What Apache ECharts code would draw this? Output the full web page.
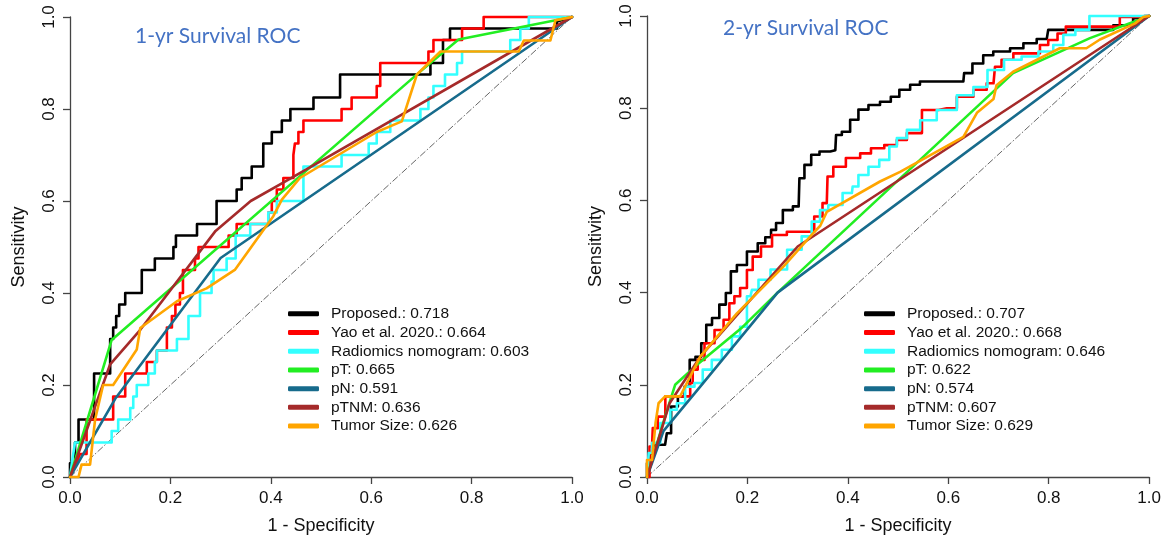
<!DOCTYPE html>
<html>
<head>
<meta charset="utf-8">
<script src="https://cdn.jsdelivr.net/npm/echarts@6/dist/echarts.min.js"></script>
<style>
html,body{margin:0;padding:0;background:#fff;}
#chart{width:1164px;height:540px;}
</style>
</head>
<body>
<div id="chart"></div>
<script>
// ---------- DATA ----------
const panelTitles = ['1-yr Survival ROC', '2-yr Survival ROC'];
const models = ['Proposed.', 'Yao et al. 2020.', 'Radiomics nomogram', 'pT', 'pN', 'pTNM', 'Tumor Size'];
const auc1y = ['0.718', '0.664', '0.603', '0.665', '0.591', '0.636', '0.626'];
const auc2y = ['0.707', '0.668', '0.646', '0.622', '0.574', '0.607', '0.629'];
const tickLabels = ['0.0', '0.2', '0.4', '0.6', '0.8', '1.0'];
const xName = '1 - Specificity';
const yName = 'Sensitivity';
const diag = [[0, 0], [1, 1]];

// 1-year ROC curves: [1 - specificity, sensitivity]
const roc1_proposed = [[0,0],[0,0.03],[0.01,0.03],[0.01,0.075],[0.017,0.075],[0.017,0.125],[0.048,0.125],[0.048,0.225],[0.08,0.225],[0.08,0.30],[0.086,0.30],[0.086,0.325],[0.092,0.325],[0.092,0.35],[0.098,0.35],[0.098,0.375],[0.11,0.375],[0.11,0.40],[0.143,0.40],[0.143,0.45],[0.169,0.45],[0.169,0.475],[0.206,0.475],[0.206,0.50],[0.211,0.50],[0.211,0.525],[0.253,0.525],[0.253,0.55],[0.292,0.55],[0.292,0.60],[0.332,0.60],[0.332,0.625],[0.342,0.625],[0.342,0.65],[0.362,0.65],[0.362,0.675],[0.385,0.675],[0.385,0.725],[0.402,0.725],[0.402,0.75],[0.422,0.75],[0.422,0.775],[0.439,0.775],[0.439,0.80],[0.485,0.80],[0.485,0.825],[0.538,0.825],[0.538,0.875],[0.718,0.875],[0.718,0.90],[0.743,0.90],[0.743,0.95],[0.757,0.95],[0.757,0.975],[0.97,0.975],[0.97,0.99],[1,1]];
const roc1_yao = [[0,0],[0.02,0.05],[0.033,0.05],[0.033,0.125],[0.086,0.125],[0.086,0.175],[0.11,0.175],[0.11,0.225],[0.153,0.225],[0.153,0.25],[0.173,0.25],[0.173,0.275],[0.193,0.275],[0.193,0.325],[0.203,0.325],[0.203,0.35],[0.21,0.35],[0.21,0.375],[0.219,0.375],[0.219,0.40],[0.225,0.40],[0.225,0.45],[0.249,0.45],[0.249,0.475],[0.256,0.475],[0.256,0.50],[0.316,0.50],[0.316,0.525],[0.332,0.525],[0.332,0.55],[0.395,0.55],[0.395,0.575],[0.402,0.575],[0.402,0.60],[0.412,0.60],[0.412,0.625],[0.425,0.625],[0.425,0.65],[0.445,0.65],[0.445,0.70],[0.448,0.70],[0.448,0.725],[0.455,0.725],[0.455,0.75],[0.465,0.75],[0.465,0.775],[0.541,0.775],[0.541,0.80],[0.561,0.80],[0.561,0.825],[0.611,0.825],[0.611,0.85],[0.618,0.85],[0.618,0.90],[0.714,0.90],[0.714,0.925],[0.724,0.925],[0.724,0.95],[0.781,0.95],[0.781,0.975],[0.824,0.975],[0.824,1.0],[1,1]];
const roc1_radiomics = [[0,0],[0.005,0.04],[0.01,0.075],[0.083,0.075],[0.083,0.10],[0.096,0.10],[0.096,0.125],[0.12,0.125],[0.12,0.15],[0.126,0.15],[0.126,0.175],[0.133,0.175],[0.133,0.20],[0.156,0.20],[0.156,0.225],[0.169,0.225],[0.169,0.25],[0.173,0.25],[0.173,0.275],[0.213,0.275],[0.213,0.30],[0.236,0.30],[0.236,0.35],[0.259,0.35],[0.259,0.40],[0.282,0.40],[0.282,0.425],[0.286,0.425],[0.286,0.45],[0.312,0.45],[0.312,0.475],[0.33,0.475],[0.33,0.525],[0.359,0.525],[0.359,0.55],[0.395,0.55],[0.395,0.575],[0.412,0.575],[0.412,0.60],[0.465,0.60],[0.465,0.675],[0.541,0.675],[0.541,0.70],[0.595,0.70],[0.595,0.725],[0.611,0.725],[0.611,0.75],[0.638,0.75],[0.638,0.775],[0.698,0.775],[0.698,0.80],[0.714,0.80],[0.714,0.825],[0.724,0.825],[0.724,0.85],[0.747,0.85],[0.747,0.875],[0.771,0.875],[0.771,0.90],[0.781,0.90],[0.781,0.925],[0.877,0.925],[0.877,0.95],[0.897,0.95],[0.897,0.975],[0.914,0.975],[0.914,1.0],[1,1]];
const roc1_pT = [[0,0],[0.083,0.298],[0.694,0.878],[0.774,0.951],[1,1]];
const roc1_pN = [[0,0],[0.09,0.17],[0.30,0.476],[1,1]];
const roc1_pTNM = [[0,0],[0.08,0.245],[0.14,0.32],[0.29,0.535],[0.36,0.60],[0.43,0.643],[1,1]];
const roc1_tumor = [[0,0],[0.017,0],[0.023,0.027],[0.04,0.027],[0.05,0.125],[0.066,0.20],[0.086,0.20],[0.133,0.277],[0.14,0.324],[0.213,0.382],[0.272,0.41],[0.329,0.451],[0.405,0.567],[0.422,0.603],[0.458,0.65],[0.611,0.75],[0.661,0.773],[0.691,0.875],[0.738,0.925],[0.894,0.925],[0.904,0.949],[0.957,0.949],[0.967,0.993],[1,1]];

// 2-year ROC curves
const roc2_proposed = [[0,0],[0,0.03],[0.01,0.05],[0.017,0.07],[0.036,0.07],[0.043,0.095],[0.053,0.153],[0.07,0.175],[0.08,0.196],[0.09,0.254],[0.103,0.261],[0.113,0.29],[0.123,0.33],[0.136,0.345],[0.152,0.374],[0.162,0.399],[0.172,0.446],[0.186,0.46],[0.212,0.489],[0.229,0.507],[0.242,0.52],[0.252,0.536],[0.262,0.551],[0.279,0.579],[0.302,0.587],[0.305,0.648],[0.322,0.677],[0.332,0.699],[0.355,0.706],[0.375,0.709],[0.378,0.742],[0.398,0.749],[0.411,0.775],[0.431,0.797],[0.451,0.807],[0.477,0.814],[0.494,0.825],[0.511,0.84],[0.537,0.851],[0.55,0.858],[0.63,0.858],[0.633,0.876],[0.663,0.897],[0.676,0.915],[0.703,0.923],[0.743,0.93],[0.756,0.941],[0.796,0.95],[0.802,0.97],[0.902,0.97],[0.955,0.98],[0.981,0.995],[1,1]];
const roc2_yao = [[0,0],[0.01,0.066],[0.013,0.106],[0.03,0.131],[0.043,0.175],[0.086,0.175],[0.086,0.204],[0.096,0.233],[0.106,0.254],[0.123,0.29],[0.146,0.319],[0.159,0.341],[0.169,0.377],[0.179,0.392],[0.192,0.41],[0.206,0.449],[0.215,0.478],[0.239,0.50],[0.259,0.525],[0.298,0.532],[0.325,0.532],[0.341,0.565],[0.358,0.594],[0.361,0.652],[0.381,0.673],[0.411,0.692],[0.438,0.702],[0.454,0.713],[0.491,0.72],[0.504,0.731],[0.531,0.746],[0.564,0.796],[0.597,0.80],[0.637,0.825],[0.663,0.84],[0.69,0.854],[0.696,0.89],[0.716,0.905],[0.743,0.919],[0.776,0.919],[0.789,0.937],[0.809,0.948],[0.826,0.962],[0.842,0.977],[0.935,0.977],[0.948,0.998],[1,1]];
const roc2_radiomics = [[0,0],[0.007,0.052],[0.013,0.074],[0.04,0.117],[0.053,0.146],[0.066,0.16],[0.086,0.196],[0.103,0.204],[0.119,0.233],[0.139,0.254],[0.159,0.276],[0.179,0.305],[0.192,0.326],[0.206,0.392],[0.212,0.406],[0.232,0.428],[0.26,0.45],[0.298,0.493],[0.318,0.522],[0.338,0.554],[0.351,0.579],[0.371,0.59],[0.408,0.616],[0.411,0.63],[0.431,0.655],[0.451,0.673],[0.474,0.688],[0.491,0.717],[0.504,0.735],[0.531,0.753],[0.557,0.774],[0.597,0.796],[0.637,0.828],[0.663,0.846],[0.693,0.883],[0.729,0.905],[0.763,0.912],[0.796,0.923],[0.822,0.937],[0.836,0.959],[0.87,0.97],[0.892,1.0],[1,1]];
const roc2_pT = [[0,0],[0.036,0.131],[0.056,0.20],[0.096,0.24],[0.19,0.325],[0.26,0.40],[0.729,0.876],[0.882,0.952],[1,1]];
const roc2_pN = [[0,0],[0.033,0.10],[0.106,0.196],[0.26,0.40],[1,1]];
const roc2_pTNM = [[0,0],[0.045,0.16],[0.106,0.261],[0.30,0.50],[1,1]];
const roc2_tumor = [[0,0],[0,0.037],[0.01,0.037],[0.017,0.117],[0.023,0.16],[0.036,0.175],[0.066,0.175],[0.106,0.261],[0.179,0.355],[0.272,0.457],[0.331,0.529],[0.345,0.545],[0.358,0.575],[0.464,0.641],[0.504,0.662],[0.63,0.738],[0.657,0.79],[0.69,0.82],[0.696,0.85],[0.729,0.879],[0.822,0.93],[0.875,0.93],[0.902,0.949],[0.972,0.984],[0.988,0.998],[1,1]];

// ---------- STYLE / BUILD ----------
const colors = ['#000000', '#FF0000', '#33FFFF', '#22EE22', '#176B8C', '#A52A2A', '#FFA500'];
const curves1 = [roc1_proposed, roc1_yao, roc1_radiomics, roc1_pT, roc1_pN, roc1_pTNM, roc1_tumor];
const curves2 = [roc2_proposed, roc2_yao, roc2_radiomics, roc2_pT, roc2_pN, roc2_pTNM, roc2_tumor];
const stepped2 = [true, true, true, false, false, false, false];

const FONT = '"Liberation Sans", Arial, sans-serif';
const axisCol = '#444';

function xAxisFor(gi) {
  return {
    type: 'value', gridIndex: gi, min: 0, max: 1, interval: 0.2,
    name: xName, nameLocation: 'middle', nameGap: 40,
    nameTextStyle: {fontFamily: FONT, fontSize: 18, color: '#111'},
    axisLine: {show: true, onZero: false, lineStyle: {color: axisCol, width: 1.3}},
    axisTick: {show: true, length: 7, lineStyle: {color: axisCol, width: 1.3}},
    axisLabel: {fontFamily: FONT, fontSize: 17, color: '#111', margin: 13,
      formatter: v => tickLabels[Math.round(v / 0.2)]},
    splitLine: {show: false}
  };
}
function yAxisFor(gi) {
  return {
    type: 'value', gridIndex: gi, min: 0, max: 1, interval: 0.2,
    name: yName, nameLocation: 'middle', nameGap: 42, nameRotate: 90,
    nameTextStyle: {fontFamily: FONT, fontSize: 18, color: '#111'},
    axisLine: {show: true, onZero: false, lineStyle: {color: axisCol, width: 1.3}},
    axisTick: {show: true, length: 7, lineStyle: {color: axisCol, width: 1.3}},
    axisLabel: {fontFamily: FONT, fontSize: 17, color: '#111', margin: 12, rotate: 90,
      formatter: v => tickLabels[Math.round(v / 0.2)]},
    splitLine: {show: false}
  };
}

const series = [];
[curves1, curves2].forEach((curves, gi) => {
  series.push({
    type: 'line', xAxisIndex: gi, yAxisIndex: gi, data: diag, showSymbol: false,
    silent: true, clip: false,
    lineStyle: {color: '#666', width: 1, type: [7, 2, 1.5, 2]}
  });
  const aucs = gi === 0 ? auc1y : auc2y;
  curves.forEach((d, i) => {
    series.push({
      type: 'line', name: models[i] + ': ' + aucs[i],
      xAxisIndex: gi, yAxisIndex: gi, data: d, showSymbol: false, clip: false,
      step: (gi === 1 && stepped2[i]) ? 'middle' : false,
      color: colors[i],
      lineStyle: {color: colors[i], width: 2.6, cap: 'round', join: 'round'}
    });
  });
});

function legendFor(gi, left) {
  const aucs = gi === 0 ? auc1y : auc2y;
  return {
    orient: 'vertical', left: left, top: 299.5, itemGap: 0,
    itemWidth: 31, itemHeight: 5, icon: 'roundRect', selectedMode: false,
    data: models.map((m, i) => m + ': ' + aucs[i]),
    textStyle: {fontFamily: FONT, fontSize: 15.5, color: '#111', lineHeight: 18.7, padding: [0, 0, 0, 7]}
  };
}

const option = {
  animation: false,
  backgroundColor: '#fff',
  title: [
    {text: panelTitles[0], left: 135, top: 26, padding: 0,
      textStyle: {fontFamily: 'Lato', fontWeight: 'normal', fontSize: 21, color: '#4472C4'}},
    {text: panelTitles[1], left: 723, top: 18, padding: 0,
      textStyle: {fontFamily: 'Lato', fontWeight: 'normal', fontSize: 21, color: '#4472C4'}}
  ],
  legend: [legendFor(0, 283), legendFor(1, 859)],
  grid: [
    {left: 70, top: 17, width: 502, height: 460},
    {left: 647, top: 16, width: 503, height: 461}
  ],
  xAxis: [xAxisFor(0), xAxisFor(1)],
  yAxis: [yAxisFor(0), yAxisFor(1)],
  series: series
};

const chart = echarts.init(document.getElementById('chart'), null, {renderer: 'canvas'});
chart.setOption(option);
</script>
</body>
</html>
